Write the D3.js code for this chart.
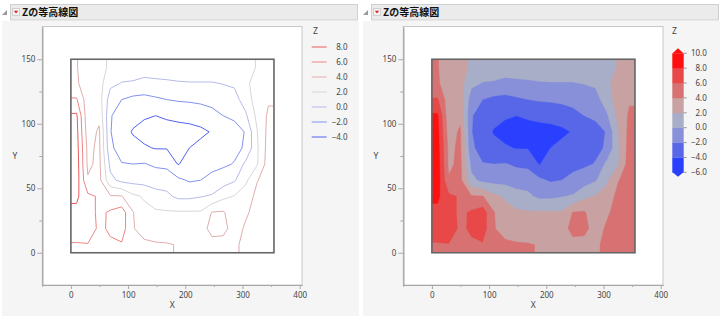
<!DOCTYPE html>
<html>
<head>
<meta charset="utf-8">
<script src="https://cdn.jsdelivr.net/npm/d3@7"></script>
<style>
body { margin: 0; background: #fff; }
text { font-family: "Noto Sans", "Liberation Sans", sans-serif; }
.title { font-family: "Noto Sans CJK JP", sans-serif; font-weight: bold; }
</style>
</head>
<body>
<svg id="chart" width="721" height="316"></svg>
<script>

var xTicks = [0, 100, 200, 300, 400]
var xMinorTicks = [-50, 50, 150, 250, 350]
var yTicks = [0, 50, 100, 150]
var yMinorTicks = [25, 75, 125]

// contour levels, low to high
var zLevels = [-4, -2, 0, 2, 4, 6, 8]
var lineColors = ['#5163f0', '#8390f0', '#b4bbe8', '#d6d6d6', '#e2acac', '#ee8484', '#e95a5a']
// bands: below -4, then one band per level
var bandColors = ['#2b40ff', '#5767e8', '#8790d9', '#a9aec8', '#c8a2a2', '#d87272', '#e84848', '#ff1010']
var legendTicks = [10, 8, 6, 4, 2, 0, -2, -4, -6]

var titleText = 'Zの等高線図'

// Z, 18 columns over X 0..355, 12 rows from Y 150 (top) down to Y 0
var gridW = 355
var gridH = 150
var zGrid = [
	[4.1, 3.0, 2.8, 1.6, 1.1, 1.0, 1.0, 1.0, 1.0, 1.0, 1.0, 1.0, 1.0, 1.1, 1.2, 1.4, 2.1, 2.3],
	[4.2, 3.2, 2.8, 0.45, -0.1, -0.2, -0.6, -0.42, -0.3, -0.16, -0.1, -0.1, -0.1, 0.06, 0.27, 1.7, 2.6, 3.0],
	[6.2, 2.8, 2.9, -1.0, -2.0, -2.5, -2.6, -2.3, -2.0, -1.8, -1.7, -1.5, -1.2, -1.0, -0.66, 0.9, 3.0, 3.8],
	[8.3, 2.6, 3.5, -1.8, -3.2, -3.6, -3.8, -4.0, -3.8, -3.6, -3.5, -3.3, -2.8, -2.0, -1.7, -0.3, 2.5, 4.3],
	[8.6, 3.0, 4.3, -1.9, -3.5, -4.1, -4.6, -4.7, -4.6, -4.6, -4.5, -4.3, -3.9, -3.3, -2.6, -1.9, 1.9, 4.6],
	[8.8, 3.5, 4.4, -1.6, -2.9, -3.6, -3.8, -4.1, -4.1, -4.4, -4.0, -3.6, -3.2, -2.8, -2.4, -1.8, 1.7, 4.8],
	[9.0, 3.6, 4.5, -0.5, -1.9, -2.0, -1.9, -2.3, -2.5, -4.1, -3.26, -2.8, -2.5, -2.3, -1.9, 0.5, 1.8, 5.0],
	[9.0, 4.2, 4.6, 0.5, -0.5, -0.67, -0.76, -0.92, -0.86, -1.6, -2.2, -2.0, -1.5, -0.97, -0.2, 1.6, 3.9, 4.8],
	[8.4, 6.4, 5.8, 4.2, 4.1, 2.4, 1.8, 0.77, 0.4, -0.4, -0.4, -0.1, 0.2, 1.5, 2.1, 3.0, 4.5, 4.9],
	[7.5, 7.0, 5.5, 6.3, 7.0, 4.1, 2.5, 2.3, 2.2, 2.2, 2.2, 2.2, 4.1, 4.2, 2.8, 3.8, 4.5, 4.8],
	[7.3, 7.2, 5.6, 6.3, 7.0, 4.1, 3.4, 3.0, 2.8, 2.7, 2.8, 3.2, 4.6, 4.4, 3.4, 4.2, 4.6, 4.8],
	[5.8, 5.9, 5.4, 5.7, 5.8, 4.9, 4.3, 4.2, 4.15, 3.9, 3.2, 3.2, 3.4, 3.5, 3.8, 4.3, 4.6, 4.8]
]

var svg = d3.select('#chart')

var x = d3.scaleLinear().domain([-50, 404]).range([42.3, 302])
var y = d3.scaleLinear().domain([-25, 175]).range([285, 27])

var nx = zGrid[0].length
var ny = zGrid.length

// repeat the edge cells once all round so the contours run past the frame
// (then clipped) instead of cutting the corners
var padRow = function(row) {
	return [row[0]].concat(row).concat([row[row.length - 1]])
}
var padded = zGrid.map(padRow)
padded = [padded[0]].concat(padded).concat([padded[padded.length - 1]])
var zValues = d3.merge(padded)

var gx = d3.scaleLinear().domain([1, nx + 1]).range([x(0), x(gridW)])
var gy = d3.scaleLinear().domain([1, ny + 1]).range([y(gridH), y(0)])
var toScreen = d3.geoTransform({
	point: function(a, b) { this.stream.point(gx(a), gy(b)) }
})
var path = d3.geoPath(toScreen)

svg.append('defs').append('clipPath')
	.attr('id', 'frame-clip')
	.append('rect')
	.attr('x', x(0)).attr('y', y(gridH))
	.attr('width', x(gridW) - x(0))
	.attr('height', y(0) - y(gridH))

var styleAxis = function(sel) {
	sel.select('.domain').attr('stroke', '#a8a8a8')
	sel.selectAll('.tick line').attr('stroke', '#a8a8a8')
	sel.selectAll('.tick text')
		.attr('fill', '#444')
		.style('font-size', '8px')
		.style('font-family', '"Noto Sans", sans-serif')
}

var drawPanel = function(left, filled) {

	var g = svg.append('g')
		.attr('transform', 'translate(' + left + ',0)')

	// panel background and header
	g.append('rect')
		.attr('x', 2).attr('y', 21)
		.attr('width', 357).attr('height', 295)
		.attr('fill', '#f5f5f5')

	g.append('rect')
		.attr('x', 10.5).attr('y', 4.5)
		.attr('width', 347).attr('height', 15.5)
		.attr('fill', '#ebebeb')
		.attr('stroke', '#cfcfcf')

	g.append('path')
		.attr('d', 'M7,10 L7,15 L2,15 Z')
		.attr('fill', '#9a9a9a')

	g.append('rect')
		.attr('x', 12.5).attr('y', 8.5)
		.attr('width', 7).attr('height', 7)
		.attr('fill', '#f4f4f4')
		.attr('stroke', '#d0d0d0')

	g.append('path')
		.attr('d', 'M13.8,10.8 L18.2,10.8 L16,13.6 Z')
		.attr('fill', '#e0201c')

	g.append('text')
		.attr('class', 'title')
		.attr('x', 22).attr('y', 16.3)
		.style('font-size', '10px')
		.attr('fill', '#111')
		.text(titleText)

	// plot area
	g.append('rect')
		.attr('x', x.range()[0]).attr('y', y.range()[1] - 0.5)
		.attr('width', x.range()[1] - x.range()[0])
		.attr('height', y.range()[0] - y.range()[1] + 0.5)
		.attr('fill', '#fff')
		.attr('stroke', '#c8c8c8')

	var body = g.append('g')
		.attr('clip-path', 'url(#frame-clip)')

	if (filled) {

		var bands = d3.contours()
			.size([nx + 2, ny + 2])
			.thresholds([-1000].concat(zLevels))(zValues)

		body.selectAll('path')
			.data(bands)
			.enter().append('path')
			.attr('d', path)
			.attr('fill', function(d, i) { return bandColors[i] })
			.attr('stroke', function(d, i) { return bandColors[i] })
			.attr('stroke-width', 0.4)

	} else {

		var lines = d3.contours()
			.size([nx + 2, ny + 2])
			.thresholds(zLevels)(zValues)

		body.selectAll('path')
			.data(lines)
			.enter().append('path')
			.attr('d', path)
			.attr('fill', 'none')
			.attr('stroke', function(d, i) { return lineColors[i] })
			.attr('stroke-width', 1)

	}

	// data frame
	g.append('rect')
		.attr('x', x(0)).attr('y', y(gridH))
		.attr('width', x(gridW) - x(0))
		.attr('height', y(0) - y(gridH))
		.attr('fill', 'none')
		.attr('stroke', '#666')
		.attr('stroke-width', 1.6)

	// axes
	g.append('g')
		.attr('transform', 'translate(' + x.range()[0] + ',0)')
		.call(d3.axisLeft(y).tickValues(yMinorTicks).tickSize(3).tickSizeOuter(0).tickFormat(''))
		.call(styleAxis)

	g.append('g')
		.attr('transform', 'translate(' + x.range()[0] + ',0)')
		.call(d3.axisLeft(y).tickValues(yTicks).tickSize(5).tickPadding(2).tickSizeOuter(0))
		.call(styleAxis)

	g.append('g')
		.attr('transform', 'translate(0,' + y.range()[0] + ')')
		.call(d3.axisBottom(x).tickValues(xMinorTicks).tickSize(2).tickSizeOuter(0).tickFormat(''))
		.call(styleAxis)

	g.append('g')
		.attr('transform', 'translate(0,' + y.range()[0] + ')')
		.call(d3.axisBottom(x).tickValues(xTicks).tickSize(4).tickPadding(3).tickSizeOuter(0))
		.call(styleAxis)

	g.append('text')
		.attr('x', (x.range()[0] + x.range()[1]) / 2)
		.attr('y', 308)
		.attr('text-anchor', 'middle')
		.attr('fill', '#444')
		.style('font-size', '8.5px')
		.text('X')

	g.append('text')
		.attr('x', 15)
		.attr('y', (y.range()[0] + y.range()[1]) / 2 + 3)
		.attr('text-anchor', 'middle')
		.attr('fill', '#444')
		.style('font-size', '8.5px')
		.text('Y')

	g.append('text')
		.attr('x', filled ? 311 : 313)
		.attr('y', 34)
		.attr('fill', '#444')
		.style('font-size', '8.5px')
		.text('Z')

	return g
}

// left: contour lines
var leftPanel = drawPanel(0, false)

var lineLegend = leftPanel.append('g')
	.selectAll('g')
	.data(zLevels.slice().reverse())
	.enter().append('g')
	.attr('transform', function(d, i) { return 'translate(0,' + (47 + i * 15) + ')' })

lineLegend.append('line')
	.attr('x1', 311.7).attr('x2', 326.7)
	.attr('stroke', function(d) { return lineColors[zLevels.indexOf(d)] })
	.attr('stroke-width', 1)

lineLegend.append('text')
	.attr('x', 347.5)
	.attr('dy', '0.35em')
	.attr('text-anchor', 'end')
	.attr('fill', '#444')
	.style('font-size', '8px')
	.text(function(d) { return d3.format('.1f')(d) })

// right: filled bands
var rightPanel = drawPanel(361, true)

var ly = d3.scaleLinear().domain([10, -6]).range([53.3, 172.3])
var barX = 672.3 - 361
var barW = 11.4

var bandEdges = [-6].concat(zLevels).concat([10])

rightPanel.append('g')
	.selectAll('rect')
	.data(bandColors)
	.enter().append('rect')
	.attr('x', barX)
	.attr('width', barW)
	.attr('y', function(d, i) { return ly(bandEdges[i + 1]) })
	.attr('height', function(d, i) { return ly(bandEdges[i]) - ly(bandEdges[i + 1]) + 0.3 })
	.attr('fill', function(d) { return d })

rightPanel.append('path')
	.attr('d', 'M' + barX + ',' + (ly(10) + 0.3) + ' L' + (barX + barW / 2) + ',' + (ly(10) - 5) + ' L' + (barX + barW) + ',' + (ly(10) + 0.3) + ' Z')
	.attr('fill', bandColors[bandColors.length - 1])

rightPanel.append('path')
	.attr('d', 'M' + barX + ',' + (ly(-6) - 0.3) + ' L' + (barX + barW / 2) + ',' + (ly(-6) + 4.5) + ' L' + (barX + barW) + ',' + (ly(-6) - 0.3) + ' Z')
	.attr('fill', bandColors[0])

var legendAxis = rightPanel.append('g')
	.selectAll('g')
	.data(legendTicks)
	.enter().append('g')
	.attr('transform', function(d) { return 'translate(0,' + ly(d) + ')' })

legendAxis.append('line')
	.attr('x1', barX + barW).attr('x2', barX + barW + 3)
	.attr('stroke', '#999')

legendAxis.append('text')
	.attr('x', 706.8 - 361)
	.attr('dy', '0.35em')
	.attr('text-anchor', 'end')
	.attr('fill', '#444')
	.style('font-size', '8px')
	.text(function(d) { return d3.format('.1f')(d) })

</script>
</body>
</html>
